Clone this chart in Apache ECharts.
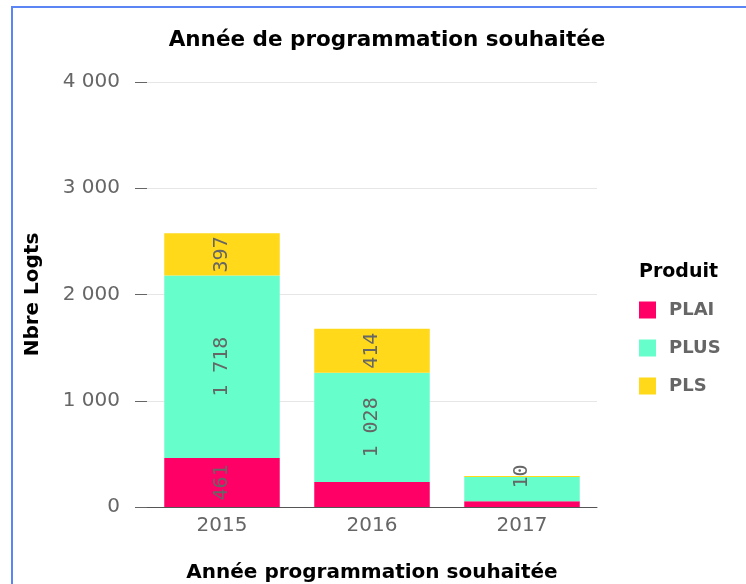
<!DOCTYPE html>
<html>
<head>
<meta charset="utf-8">
<script src="https://cdn.jsdelivr.net/npm/echarts@6/dist/echarts.min.js"></script>
<style>
  html, body { margin: 0; padding: 0; background: #fff; }
  #chart { width: 746px; height: 584px; }
  #frame {
    position: absolute; left: 11px; top: 6px; right: 0; bottom: 0;
    border-left: 2px solid #5b84f5; border-top: 2px solid #5b84f5;
    pointer-events: none;
  }
</style>
</head>
<body>
<div id="chart"></div>
<div id="frame"></div>
<script>
// années
var years = ['2015', '2016', '2017'];
// nombre de logements par produit
var plai = [461, 235, 55];
var plus = [1718, 1028, 227];
var pls = [397, 414, 10];
var yTicks = [0, 1000, 2000, 3000, 4000];

function fmt(v) {
    return String(v).replace(/\B(?=(\d{3})+(?!\d))/g, ' ');
}

var chart = echarts.init(document.getElementById('chart'));

var labelStyle = {
    show: true,
    position: 'inside',
    rotate: 90,
    color: '#666',
    fontFamily: 'DejaVu Sans Mono',
    fontSize: 20,
    formatter: function (p) {
        // petites valeurs masquées sauf pour la série du haut
        if (p.value < 300 && p.seriesName !== 'PLS') return '';
        return fmt(p.value);
    }
};

var option = {
    backgroundColor: '#fff',
    animation: false,
    title: [{
        text: 'Année de programmation souhaitée',
        left: 382,
        top: 24,
        textAlign: 'center',
        textStyle: { fontFamily: 'DejaVu Sans', fontSize: 21.5, fontWeight: 'bold', color: '#000' }
    }, {
        text: 'Produit',
        left: 634,
        top: 258,
        textStyle: { fontFamily: 'DejaVu Sans', fontSize: 19, fontWeight: 'bold', color: '#000' }
    }],
    legend: {
        orient: 'vertical',
        left: 634,
        top: 296,
        itemWidth: 17,
        itemHeight: 17,
        itemGap: 20,
        icon: 'rect',
        textStyle: { fontFamily: 'DejaVu Sans', fontSize: 18, fontWeight: 'bold', color: '#666', padding: [0, 0, 0, 8] },
        data: ['PLAI', 'PLUS', 'PLS']
    },
    grid: { left: 147, right: 149, top: 82, bottom: 77, outerBoundsMode: 'none' },
    xAxis: {
        type: 'category',
        data: years,
        name: 'Année programmation souhaitée',
        nameLocation: 'middle',
        nameGap: 56,
        nameTextStyle: { fontFamily: 'DejaVu Sans', fontSize: 20, fontWeight: 'bold', color: '#000' },
        axisLine: { lineStyle: { color: '#555', width: 1 } },
        axisTick: { length: 9, lineStyle: { color: '#555' } },
        axisLabel: { margin: 9, fontFamily: 'DejaVu Sans', fontSize: 20, color: '#666' }
    },
    yAxis: {
        type: 'value',
        min: yTicks[0],
        max: yTicks[yTicks.length - 1],
        interval: 1000,
        name: 'Nbre Logts',
        nameLocation: 'middle',
        nameGap: 104,
        nameTextStyle: { fontFamily: 'DejaVu Sans', fontSize: 20, fontWeight: 'bold', color: '#000' },
        axisLine: { show: false },
        axisTick: { show: true, length: 12, lineStyle: { color: '#666' } },
        axisLabel: {
            margin: 27,
            fontFamily: 'DejaVu Sans',
            fontSize: 20,
            color: '#666',
            formatter: fmt
        },
        splitLine: { lineStyle: { color: '#e6e6e6' } }
    },
    series: [{
        name: 'PLAI', type: 'bar', stack: 'total', barWidth: '77%',
        itemStyle: { color: '#ff0066' }, label: labelStyle, data: plai
    }, {
        name: 'PLUS', type: 'bar', stack: 'total', barWidth: '77%',
        itemStyle: { color: '#66ffcc' }, label: labelStyle, data: plus
    }, {
        name: 'PLS', type: 'bar', stack: 'total', barWidth: '77%',
        itemStyle: { color: '#ffd91a' }, label: labelStyle, data: pls
    }]
};

chart.setOption(option);
</script>
</body>
</html>
